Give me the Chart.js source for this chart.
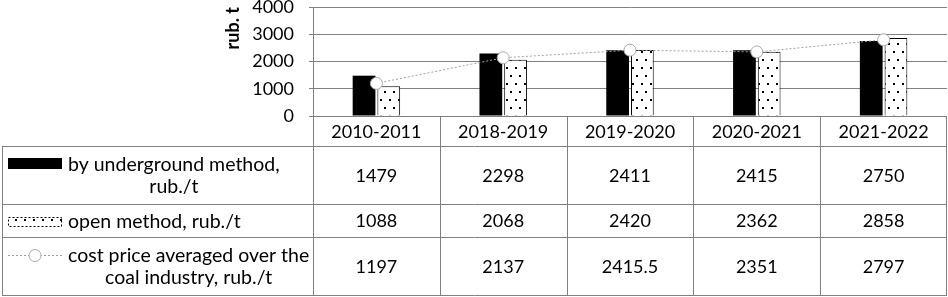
<!DOCTYPE html>
<html>
<head>
<meta charset="utf-8">
<script src="https://cdn.jsdelivr.net/npm/chart.js@4"></script>
<style>
  html, body { margin: 0; padding: 0; background: #fff; }
  #costChart { display: block; }
</style>
</head>
<body>
<canvas id="costChart" width="948" height="297"></canvas>
<script>
const seasons = ['2010-2011', '2018-2019', '2019-2020', '2020-2021', '2021-2022'];
const undergroundCost = [1479, 2298, 2411, 2415, 2750];
const openCost = [1088, 2068, 2420, 2362, 2858];
const averageCost = [1197, 2137, 2415.5, 2351, 2797];
const averageCostLabels = ['1197', '2137', '2415.5', '2351', '2797'];

const undergroundLabel = ['by underground method,', 'rub./t'];
const openLabel = ['open method, rub./t'];
const averageLabel = ['cost price averaged over the', 'coal industry, rub./t'];
const yTitle = 'rub. t';

const FONT = 'Lato, "Liberation Sans", sans-serif';
const LINE_GREY = '#808080';

function makeDotPattern() {
    let c = document.createElement('canvas');
    c.width = 9;
    c.height = 16;
    let g = c.getContext('2d');
    g.fillStyle = '#fff';
    g.fillRect(0, 0, 9, 16);
    g.fillStyle = '#000';
    g.fillRect(2, 3, 2, 2);
    g.fillRect(6, 11, 2, 2);
    return document.createElement('canvas').getContext('2d').createPattern(c, 'repeat');
}
const dots = makeDotPattern();

// table under the plot: header + 3 series rows
const rowHeights = [31, 58, 33, 58];
const tableLeft = 2;

const dataTable = {
    id: 'dataTable',
    afterDraw(chart) {
        const ctx = chart.ctx;
        const x = chart.scales.x;
        const area = chart.chartArea;
        const step = x.getPixelForValue(1) - x.getPixelForValue(0);
        const colLeft = i => x.getPixelForValue(i) - step / 2;
        const right = colLeft(seasons.length);

        let ys = [area.bottom];
        rowHeights.forEach(h => ys.push(ys[ys.length - 1] + h));
        const bottom = ys[ys.length - 1];

        ctx.save();
        ctx.strokeStyle = LINE_GREY;
        ctx.lineWidth = 1;
        ctx.beginPath();
        // horizontals
        ctx.moveTo(area.left, ys[0] + 0.5);
        ctx.lineTo(right, ys[0] + 0.5);
        for (let r = 1; r < ys.length; r++) {
            let y = Math.round(ys[r]) - 0.5;
            ctx.moveTo(tableLeft, y);
            ctx.lineTo(right, y);
        }
        // verticals
        ctx.moveTo(tableLeft + 0.5, ys[1]);
        ctx.lineTo(tableLeft + 0.5, bottom);
        for (let i = 0; i <= seasons.length; i++) {
            let xx = Math.round(colLeft(i)) + 0.5;
            if (i === seasons.length) xx -= 1;
            ctx.moveTo(xx, ys[0]);
            ctx.lineTo(xx, bottom);
        }
        ctx.stroke();

        ctx.fillStyle = '#000';
        ctx.font = '18px ' + FONT;
        ctx.textAlign = 'center';
        ctx.textBaseline = 'middle';
        const rowMid = r => (ys[r] + ys[r + 1]) / 2;

        seasons.forEach((s, i) => {
            let cx = x.getPixelForValue(i);
            ctx.fillText(s, cx, rowMid(0) + 1);
            ctx.fillText(String(undergroundCost[i]), cx, rowMid(1));
            ctx.fillText(String(openCost[i]), cx, rowMid(2));
            ctx.fillText(averageCostLabels[i], cx, rowMid(3));
        });

        // legend keys
        const keyL = 8, keyR = 62;
        ctx.fillRect(keyL, Math.round(ys[1] + 11), keyR - keyL, 11);

        let y2 = Math.round(ys[2] + 12);
        ctx.fillStyle = dots;
        ctx.fillRect(keyL, y2, keyR - keyL, 10);
        ctx.setLineDash([2, 2]);
        ctx.strokeStyle = '#000';
        ctx.strokeRect(keyL + 0.5, y2 + 0.5, keyR - keyL - 1, 9);

        let y3 = Math.round(ys[3] + 17) + 0.5;
        ctx.strokeStyle = '#999';
        ctx.beginPath();
        ctx.moveTo(keyL, y3);
        ctx.lineTo(keyR, y3);
        ctx.stroke();
        ctx.setLineDash([]);
        ctx.fillStyle = '#fff';
        ctx.strokeStyle = '#aaa';
        ctx.beginPath();
        ctx.arc((keyL + keyR) / 2, y3, 6, 0, Math.PI * 2);
        ctx.fill();
        ctx.stroke();

        // legend text, each block centred
        ctx.fillStyle = '#000';
        ctx.font = '19.5px ' + FONT;
        const textL = 68;
        function block(lines, r) {
            let widths = lines.map(t => ctx.measureText(t).width);
            let cx = textL + Math.max(...widths) / 2;
            let lh = 22;
            let top = rowMid(r) - lh * (lines.length - 1) / 2;
            lines.forEach((t, k) => ctx.fillText(t, cx, top + k * lh));
        }
        block(undergroundLabel, 1);
        block(openLabel, 2);
        block(averageLabel, 3);
        ctx.restore();
    }
};

const ctx = document.getElementById('costChart').getContext('2d');
window.chart = new Chart(ctx, {
    type: 'bar',
    data: {
        labels: seasons,
        datasets: [{
            type: 'line',
            label: 'cost price averaged over the coal industry, rub./t',
            data: averageCost,
            borderColor: '#a0a0a0',
            borderWidth: 1,
            borderDash: [2, 2],
            pointRadius: 6,
            pointBackgroundColor: '#fff',
            pointBorderColor: '#aaa',
            pointBorderWidth: 1,
            order: 0
        }, {
            label: 'by underground method, rub./t',
            data: undergroundCost,
            backgroundColor: '#000',
            borderColor: '#000',
            borderWidth: 0,
            barPercentage: 0.92,
            categoryPercentage: 0.39,
            order: 1
        }, {
            label: 'open method, rub./t',
            data: openCost,
            backgroundColor: dots,
            borderColor: '#000',
            borderWidth: 1,
            barPercentage: 0.92,
            categoryPercentage: 0.39,
            order: 1
        }]
    },
    options: {
        responsive: false,
        animation: false,
        layout: { autoPadding: false, padding: { left: 222, right: 1, top: 7, bottom: 181 } },
        plugins: {
            legend: { display: false },
            tooltip: { enabled: false }
        },
        scales: {
            x: { display: false, offset: true },
            y: {
                min: 0,
                max: 4000,
                afterFit: scale => {
                    scale.width = 91;
                    scale.paddingTop = 0;
                    scale.paddingBottom = 0;
                },
                ticks: {
                    stepSize: 1000,
                    color: '#000',
                    padding: 15,
                    font: { family: FONT, size: 18 },
                    callback: v => String(v)
                },
                grid: { color: LINE_GREY, tickLength: 4 },
                border: { color: LINE_GREY },
                title: {
                    display: true,
                    text: yTitle,
                    align: 'end',
                    color: '#000',
                    padding: 0,
                    font: { family: FONT, size: 18, weight: 'bold' }
                }
            }
        }
    },
    plugins: [dataTable]
});
</script>
</body>
</html>
